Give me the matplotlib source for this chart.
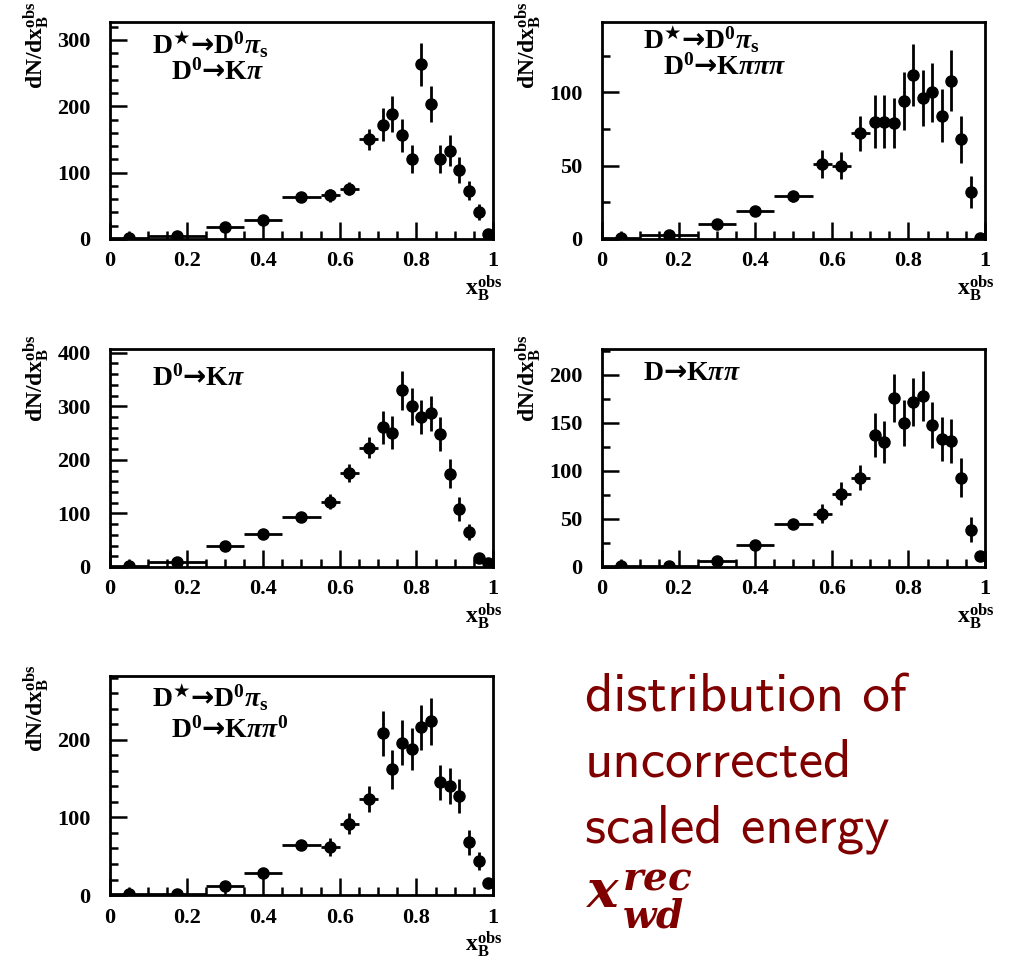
import matplotlib
matplotlib.use("Agg")
import matplotlib.pyplot as plt
from matplotlib.ticker import MultipleLocator

plt.rcParams["font.family"] = ["Liberation Serif", "DejaVu Serif"]
plt.rcParams["font.weight"] = "bold"
plt.rcParams["mathtext.fontset"] = "custom"
plt.rcParams["mathtext.rm"] = "Liberation Serif:bold"
plt.rcParams["mathtext.it"] = "Liberation Serif:italic:bold"
plt.rcParams["mathtext.bf"] = "Liberation Serif:bold"
plt.rcParams["mathtext.sf"] = "DejaVu Sans"
plt.rcParams["mathtext.fallback"] = "stix"

# bin centres and half widths (same for all channels)
x_centres = [0.05, 0.175, 0.3, 0.4, 0.5, 0.575, 0.625, 0.675,
             0.7125, 0.7375, 0.7625, 0.7875, 0.8125, 0.8375, 0.8625,
             0.8875, 0.9125, 0.9375, 0.9625, 0.9875]
x_half = [0.05, 0.075, 0.05, 0.05, 0.05, 0.025, 0.025, 0.025,
          0.0125, 0.0125, 0.0125, 0.0125, 0.0125, 0.0125, 0.0125,
          0.0125, 0.0125, 0.0125, 0.0125, 0.0125]

# D* -> D0 pi_s, D0 -> K pi
y_dst_kpi = [1, 4, 17.5, 28, 64, 66, 76, 150, 172, 188, 156, 120, 263,
             204, 120, 133, 104, 73, 40.5, 8]
e_dst_kpi = [1, 2, 4, 5, 6, 10, 10, 16, 25, 27, 25, 21, 33, 27, 21, 23,
             19, 15, 12, 5]

# D* -> D0 pi_s, D0 -> K pi pi pi
y_dst_k3pi = [0.5, 3, 10.4, 19, 29, 51, 50, 72, 80, 80, 79, 94, 112, 96,
              100, 84, 108, 68, 32, 0.5]
e_dst_k3pi = [0.5, 1.5, 2, 3, 4, 9.5, 9, 12, 18, 18, 17, 20, 21, 19, 20,
              18, 21, 16, 11, 0.5]

# D0 -> K pi
y_d0_kpi = [2.5, 9, 38.5, 61, 94, 122, 176, 223, 261, 251, 330, 300, 280,
            287, 248, 174, 108, 65, 16, 7.5]
e_d0_kpi = [2, 3, 5, 6, 8, 14, 17, 20, 31, 30, 36, 35, 32, 33, 32, 27, 22,
            15, 6, 4]

# D -> K pi pi
y_d_kpipi = [1, 1, 6, 23, 44.5, 55.6, 76.5, 93, 137, 130, 175.6, 149.6,
             172, 178, 148, 133, 131.5, 93, 39, 11.5]
e_d_kpipi = [1, 1, 2, 3, 4, 9.5, 12, 13, 23, 22, 25, 24, 25, 26, 24, 23,
             23, 20, 13, 5]

# D* -> D0 pi_s, D0 -> K pi pi0
y_dst_kpipi0 = [1.3, 1.3, 12, 29, 64.5, 61.5, 91.6, 123.4, 208, 162, 196,
                188, 216, 223.7, 145, 140, 128, 68, 44, 16]
e_dst_kpipi0 = [1, 1, 3, 5, 6, 11.5, 13.5, 16.5, 29, 25, 29, 27, 29, 30,
                23, 23, 22, 16, 12, 5]

ARROW = "\\mathsf{\u2192}"
STAR = "^{\\mathsf{\u2605}}"
dst_line = r"$\mathrm{D}" + STAR + ARROW + r"\mathrm{D}^{0}\pi_{\mathrm{s}}$"

panels = [
    (y_dst_kpi, e_dst_kpi, 327, 100, 20,
     [dst_line, r"$\mathrm{D}^{0}" + ARROW + r"\mathrm{K}\pi$"]),
    (y_dst_k3pi, e_dst_k3pi, 148, 50, 25,
     [dst_line, r"$\mathrm{D}^{0}" + ARROW + r"\mathrm{K}\pi\pi\pi$"]),
    (y_d0_kpi, e_d0_kpi, 407, 100, 20,
     [r"$\mathrm{D}^{0}" + ARROW + r"\mathrm{K}\pi$"]),
    (y_d_kpipi, e_d_kpipi, 227, 50, 25,
     [r"$\mathrm{D}" + ARROW + r"\mathrm{K}\pi\pi$"]),
    (y_dst_kpipi0, e_dst_kpipi0, 282, 100, 20,
     [dst_line, r"$\mathrm{D}^{0}" + ARROW + r"\mathrm{K}\pi\pi^{0}$"]),
]

# axes rectangles in figure fractions
rects = [
    [0.1089, 0.7508, 0.3792, 0.2263],
    [0.5960, 0.7508, 0.3792, 0.2263],
    [0.1089, 0.4088, 0.3792, 0.2273],
    [0.5960, 0.4088, 0.3792, 0.2273],
    [0.1089, 0.0667, 0.3792, 0.2284],
]
legend_pos = [
    [(0.11, 0.853), (0.159, 0.733)],
    [(0.107, 0.876), (0.159, 0.756)],
    [(0.11, 0.83)],
    [(0.107, 0.858)],
    [(0.11, 0.858), (0.159, 0.72)],
]
ylabel_top = [1.092, 1.092, 1.064, 1.064, 1.05]

fig = plt.figure(figsize=(10.1, 9.59), dpi=100)

for i, (yv, ev, ymax, major, minor, labels) in enumerate(panels):
    ax = fig.add_axes(rects[i])
    ax.errorbar(x_centres, yv, xerr=x_half, yerr=ev, fmt="o", color="black",
                markersize=8, elinewidth=2, capsize=0)
    ax.set_xlim(0, 1)
    ax.set_ylim(0, ymax)
    ax.xaxis.set_minor_locator(MultipleLocator(0.05))
    ax.yaxis.set_major_locator(MultipleLocator(major))
    ax.yaxis.set_minor_locator(MultipleLocator(minor))
    ax.set_xticks([0, 0.2, 0.4, 0.6, 0.8, 1.0])
    ax.set_xticklabels(["0", "0.2", "0.4", "0.6", "0.8", "1"])
    ax.tick_params(which="both", direction="in", top=False, right=False,
                   width=1.8, labelsize=16)
    ax.tick_params(which="major", length=12)
    ax.tick_params(which="minor", length=6)
    ax.tick_params(axis="x", pad=9)
    ax.tick_params(axis="y", pad=14)
    for sp in ax.spines.values():
        sp.set_linewidth(2)
    for (lx, ly), txt in zip(legend_pos[i], labels):
        ax.text(lx, ly, txt, transform=ax.transAxes, fontsize=20,
                ha="left", va="baseline")
    ax.text(-0.19, ylabel_top[i], r"$\mathrm{dN/dx}_{\mathrm{B}}^{\mathrm{obs}}$",
            transform=ax.transAxes, rotation=90, ha="center", va="top",
            fontsize=17)
    ax.text(1.025, -0.16, r"$\mathrm{x}_{\mathrm{B}}^{\mathrm{obs}}$",
            transform=ax.transAxes, ha="right", va="top", fontsize=17)

dark_red = "#800000"
lines = ["distribution of", "uncorrected", "scaled energy"]
baselines = [0.2576, 0.1898, 0.1210]
for txt, yb in zip(lines, baselines):
    fig.text(0.579, yb, txt, family="cmss10", fontsize=39.5, color=dark_red,
             ha="left", va="baseline")

# x_wd^rec, drawn piece by piece so the scripts keep their size
sym_parts = [(r"$\mathbfit{x}$", 0.580, 1 - 907 / 959, 38),
             (r"$\mathbfit{rec}$", 0.616, 1 - 889 / 959, 28),
             (r"$\mathbfit{wd}$", 0.616, 1 - 927 / 959, 28)]
for txt, xf, yf, fs in sym_parts:
    fig.text(xf, yf, txt, math_fontfamily="dejavuserif", fontsize=fs,
             color=dark_red, ha="left", va="baseline")

fig.savefig("out.png", dpi=100)
